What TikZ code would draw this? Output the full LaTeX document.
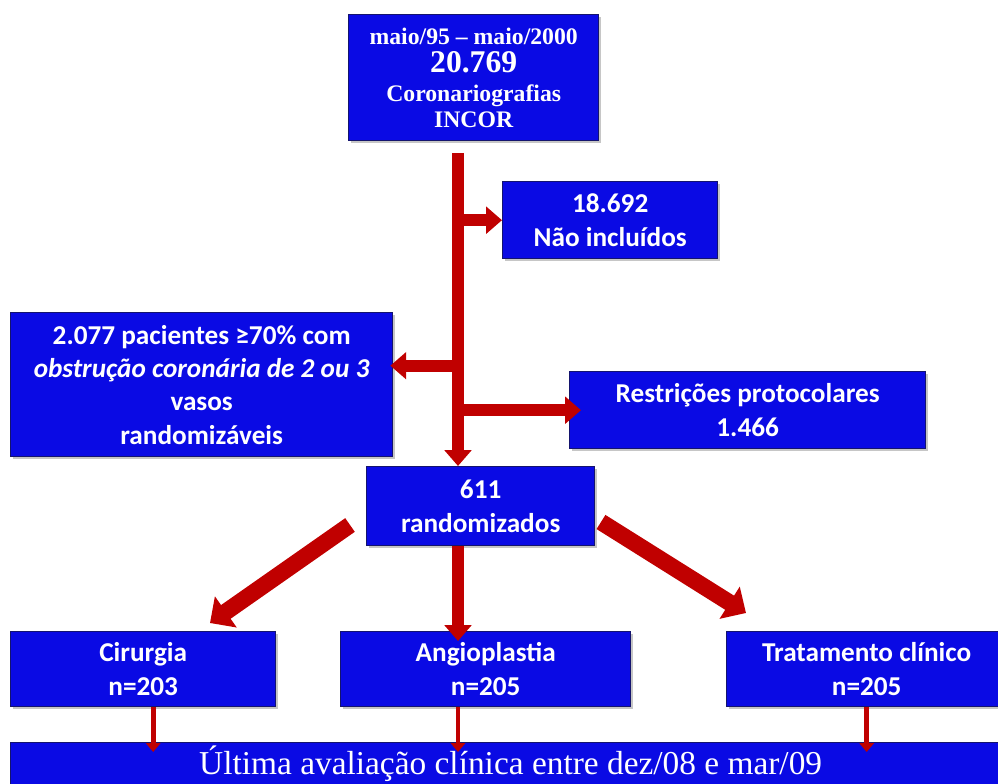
\documentclass[tikz,border=0pt]{standalone}
\usepackage{fontspec}
\setmainfont{Carlito}
\newfontfamily\capfont[Ligatures=TeX]{Liberation Serif}
\usetikzlibrary{calc,shadows,arrows.meta}

\definecolor{boxblue}{RGB}{10,10,228}
\definecolor{boxedge}{RGB}{20,20,110}
\definecolor{arrowred}{RGB}{192,0,0}

\tikzset{
	bluebox/.style={draw=boxedge, line width=0.8pt, fill=boxblue, text=white, align=center,
		inner sep=0pt, anchor=north west, font=\bfseries\fontsize{15.5}{19}\selectfont,
		drop shadow={shadow xshift=1.5pt, shadow yshift=-1.5pt, opacity=0.45}},
	bigarrow/.style={draw=arrowred, line width=6.8pt, -{Triangle[length=9pt, width=15pt]}},
	widearrow/.style={draw=arrowred, line width=9.5pt, -{Triangle[length=11pt, width=21pt]}},
	smallarrow/.style={draw=arrowred, line width=2.8pt, -{Triangle[length=5pt, width=8pt]}}
}

\begin{document}
\begin{tikzpicture}[x=0.02cm, y=-0.02cm]
		%%%%% START %%%%%
		\useasboundingbox (0, 0) rectangle (998, 784);
		
		\node[bluebox, minimum width=5cm, minimum height=2.52cm,
			font=\capfont\bfseries\fontsize{13.5}{14.5}\selectfont] (period) at (348, 14)
			{maio/95 – maio/2000\\[1.5pt]
			 {\fontsize{18}{18}\selectfont 20.769}\\[2pt]
			 Coronariografias\\ INCOR};
		\node[bluebox, minimum width=4.3cm, minimum height=1.54cm] (excl) at (502, 181)
			{18.692\\ Não incluídos};
		\node[bluebox, minimum width=7.64cm, minimum height=2.88cm] (eleg) at (10, 312)
			{2.077 pacientes ≥70\% com\\ \textit{obstrução coronária de 2 ou 3}\\ vasos\\ randomizáveis};
		\node[bluebox, minimum width=7.12cm, minimum height=1.54cm] (restr) at (569, 371)
			{Restrições protocolares\\ 1.466};
		\node[bluebox, minimum width=4.56cm, minimum height=1.58cm] (rand) at (366, 466)
			{611\\ randomizados};
		
		\node[bluebox, minimum width=5.3cm, minimum height=1.5cm] (cir) at (10, 631)
			{Cirurgia\\ n=203};
		\node[bluebox, minimum width=5.8cm, minimum height=1.5cm] (angio) at (340, 631)
			{Angioplastia\\ n=205};
		\node[bluebox, minimum width=5.6cm, minimum height=1.5cm] (trat) at (726, 631)
			{Tratamento clínico\\ n=205};
		
		\node[bluebox, minimum width=20cm, minimum height=0.84cm, font=\capfont\fontsize{19}{20}\selectfont] (final) at (10, 742)
			{Última avaliação clínica entre dez/08 e mar/09};
		
		% main flow
		\coordinate (t0) at (458, 153);
		\draw[bigarrow] (t0) -- (t0 |- rand.north);
		\draw[bigarrow] (t0 |- excl.west) -- (excl.west);
		\draw[bigarrow] (t0 |- restr.west) -- ($(restr.west)+(12, 0)$);
		\draw[bigarrow] ($(t0 |- eleg.east)+(4, -19)$) -- ($(eleg.east)+(-3, -19)$);
		
		% randomisation
		\coordinate (dl) at (350, 525);
		\coordinate (dr) at (601, 522);
		\draw[widearrow] (dl) -- (210, 623);
		\draw[widearrow] (dr) -- (746, 613);
		\draw[bigarrow] (t0 |- rand.south) -- ($(t0 |- angio.north)+(0, 10)$);
		
		% follow-up
		\draw[smallarrow] ($(cir.south)+(10, 0)$) -- ($(cir.south |- final.north)+(10, 10)$);
		\draw[smallarrow] (t0 |- angio.south) -- ($(t0 |- final.north)+(0, 10)$);
		\draw[smallarrow] (trat.south) -- ($(trat.south |- final.north)+(0, 10)$);
		
		%%%%% END %%%%%
	\end{tikzpicture}
\end{document}
